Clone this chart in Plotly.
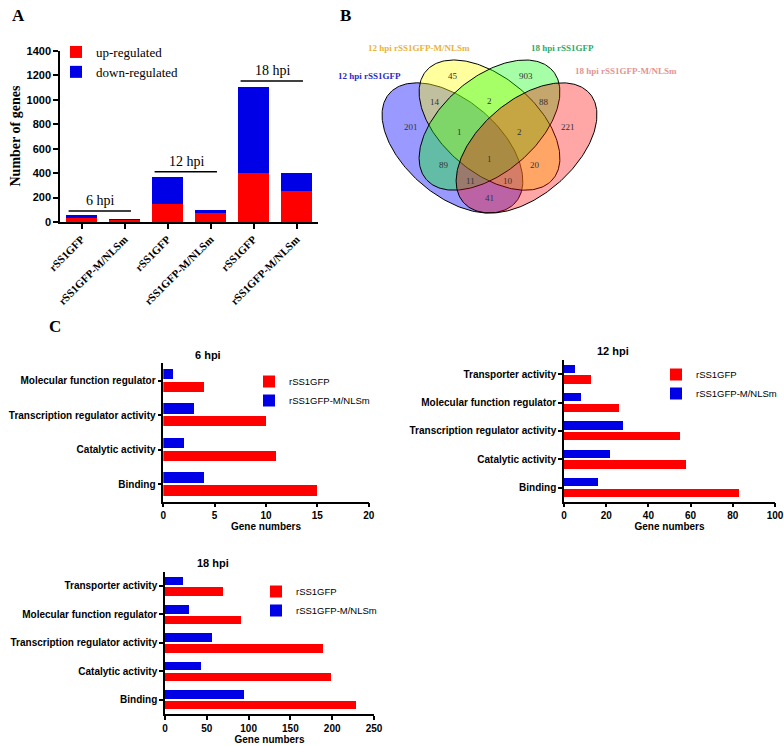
import numpy as np
import plotly.graph_objects as go

W, H = 784, 746
RED = "#FF0000"
BLUE = "#0000E6"
SANS = "Liberation Sans"
SERIF = "Liberation Serif"

# --- panel A: DEG counts
samples = ["rSS1GFP", "rSS1GFP-M/NLSm", "rSS1GFP", "rSS1GFP-M/NLSm", "rSS1GFP", "rSS1GFP-M/NLSm"]
up_regulated = [35, 20, 147, 70, 401, 257]
down_regulated = [25, 3, 224, 31, 704, 144]
time_points = ["6 hpi", "12 hpi", "18 hpi"]
bracket_y = [90, 412, 1154]

# --- panel B: venn
venn_sets = ["12 hpi rSS1GFP", "12 hpi rSS1GFP-M/NLSm", "18 hpi rSS1GFP", "18 hpi rSS1GFP-M/NLSm"]
venn_colors = ["rgba(0,0,255,0.40)", "rgba(255,255,0,0.38)", "rgba(0,255,0,0.35)", "rgba(255,0,0,0.35)"]
venn_text_colors = ["#2A2AC8", "#E8B43A", "#2EAA6A", "#E39494"]
venn_counts = [201, 45, 903, 221, 14, 2, 88, 1, 2, 1, 89, 20, 11, 10, 41]

# --- panel C: GO molecular function
go_terms = ["Binding", "Catalytic activity", "Transcription regulator activity",
            "Molecular function regulator", "Transporter activity"]
c6_wt = [15, 11, 10, 4]
c6_mut = [4, 2, 3, 1]
c12_wt = [83, 58, 55, 26, 13]
c12_mut = [16, 22, 28, 8, 5]
c18_wt = [229, 198, 189, 91, 69]
c18_mut = [95, 43, 56, 29, 22]


def px(x):
    return x / W


def py(y):
    return 1 - y / H


fig = go.Figure()

# ---------------- panel A
xpos = list(range(len(samples)))
fig.add_bar(x=xpos, y=up_regulated, name="up-regulated", marker=dict(color=RED, line_width=0),
            width=0.7, offset=-0.35, xaxis="x", yaxis="y", legend="legend")
fig.add_bar(x=xpos, y=down_regulated, base=up_regulated, name="down-regulated",
            marker=dict(color=BLUE, line_width=0),
            width=0.7, offset=-0.35, xaxis="x", yaxis="y", legend="legend")

shapes = []
annotations = []
for i, (tp, by) in enumerate(zip(time_points, bracket_y)):
    shapes.append(dict(type="line", xref="x", yref="y", x0=2 * i - 0.3, x1=2 * i + 1.15,
                       y0=by, y1=by, line=dict(color="black", width=1.5)))
    annotations.append(dict(xref="x", yref="y", x=2 * i + 0.45, y=by, text=tp, showarrow=False,
                            yanchor="bottom", yshift=1, font=dict(family=SERIF, size=14, color="black")))

annotations.append(dict(xref="paper", yref="paper", x=px(15), y=py(136.5), text="<b>Number of genes</b>",
                        xanchor="center", yanchor="middle",
                        textangle=-90, showarrow=False, font=dict(family=SERIF, size=14, color="black")))

# ---------------- panel B
t = np.linspace(0, 2 * np.pi, 240)
ell = [(0.35, 0.47, -45), (0.50, 0.57, -45), (0.50, 0.57, 45), (0.65, 0.47, 45)]
for (cx, cy, rot), col in zip(ell, venn_colors):
    r = np.deg2rad(rot)
    ux = cx + 0.35 * np.cos(t) * np.cos(r) - 0.20 * np.sin(t) * np.sin(r)
    uy = cy + 0.35 * np.cos(t) * np.sin(r) + 0.20 * np.sin(t) * np.cos(r)
    fig.add_scatter(x=489.5 + (ux - 0.5) * 247, y=60 + (0.855 - uy) * 228.4, mode="lines",
                    fill="toself", fillcolor=col, line=dict(color="black", width=1),
                    xaxis="x2", yaxis="y2", showlegend=False, hoverinfo="skip")

venn_pos = [(410.7, 126.7), (453.3, 76), (525.7, 76), (568.3, 126.7), (435, 102.3), (489.5, 100.7),
            (544, 102.3), (459.3, 132.3), (519.7, 132.3), (489.5, 159.3), (444, 165), (535, 165),
            (470.7, 180.7), (508.3, 180.7), (489.5, 197.7)]
for (vx, vy), n in zip(venn_pos, venn_counts):
    annotations.append(dict(xref="x2", yref="y2", x=vx, y=vy, text=str(n), showarrow=False,
                            font=dict(family=SERIF, size=9, color="#333333")))

set_pos = [(403, 76, "right"), (418.5, 47.7, "center"), (562.5, 47.7, "center"), (625.5, 71, "center")]
for (sx, sy, anc), name, col in zip(set_pos, venn_sets, venn_text_colors):
    annotations.append(dict(xref="x2", yref="y2", x=sx, y=sy, xanchor=anc, text="<b>" + name + "</b>",
                            showarrow=False, font=dict(family=SERIF, size=9, color=col)))


# ---------------- panel C
def add_go_panel(n, wt, mut, legend_name):
    cats = go_terms[:len(wt)]
    fig.add_bar(y=cats, x=wt, orientation="h", name="rSS1GFP", marker=dict(color=RED, line_width=0),
                width=0.29, offset=-0.33, xaxis=f"x{n}", yaxis=f"y{n}", legend=legend_name)
    fig.add_bar(y=cats, x=mut, orientation="h", name="rSS1GFP-M/NLSm", marker=dict(color=BLUE, line_width=0),
                width=0.30, offset=0.04, xaxis=f"x{n}", yaxis=f"y{n}", legend=legend_name)


add_go_panel(3, c6_wt, c6_mut, "legend2")
add_go_panel(4, c12_wt, c12_mut, "legend3")
add_go_panel(5, c18_wt, c18_mut, "legend4")

for txt, tx, ty in [("6 hpi", 208, 355), ("12 hpi", 613, 351), ("18 hpi", 213, 563)]:
    annotations.append(dict(xref="paper", yref="paper", x=px(tx), y=py(ty), text="<b>" + txt + "</b>",
                            xanchor="center", yanchor="middle",
                            showarrow=False, font=dict(family=SANS, size=11, color="black")))

for lbl, lx, ly in [("A", 18, 15), ("B", 345, 15), ("C", 55, 327)]:
    annotations.append(dict(xref="paper", yref="paper", x=px(lx), y=py(ly), text="<b>" + lbl + "</b>",
                            xanchor="center", yanchor="middle",
                            showarrow=False, font=dict(family=SERIF, size=17, color="black")))

axis_common = dict(showline=True, linecolor="black", linewidth=1.5, ticks="outside", ticklen=4,
                   tickwidth=1.5, tickcolor="black", showgrid=False, zeroline=False, fixedrange=True,
                   automargin=False)
bold_sans = dict(family=SANS, size=10, color="black", weight="bold")
title_font = dict(family=SANS, size=10, color="black", weight="bold")

leg_common = dict(bgcolor="rgba(0,0,0,0)", xanchor="left", yanchor="top", tracegroupgap=0)

fig.update_layout(
    width=W, height=H, margin=dict(l=0, r=0, t=0, b=0, pad=0, autoexpand=False),
    paper_bgcolor="white", plot_bgcolor="white",
    barmode="overlay", bargap=0,
    showlegend=True,
    xaxis=dict(axis_common, domain=[px(60), px(318)], range=[-0.5, 5.5], tickvals=xpos, ticktext=samples,
               tickangle=-45, ticklen=5, tickfont=dict(family=SERIF, size=11, color="black", weight="bold"),
               anchor="y"),
    yaxis=dict(axis_common, domain=[py(222), py(51)], range=[0, 1400], dtick=200, ticklen=5,
               tickfont=dict(family=SANS, size=11, color="black", weight="bold"), anchor="x"),
    xaxis2=dict(domain=[px(340), 1], range=[340, 784], visible=False, anchor="y2", fixedrange=True),
    yaxis2=dict(domain=[py(300), 1], range=[300, 0], visible=False, anchor="x2", fixedrange=True),
    xaxis3=dict(axis_common, domain=[px(163.3), px(368.7)], range=[0, 20], dtick=5, tickfont=bold_sans,
                title=dict(text="Gene numbers", font=title_font, standoff=3), anchor="y3"),
    yaxis3=dict(axis_common, domain=[py(501.7), py(363.3)], range=[-0.5, 3.5], tickfont=bold_sans, anchor="x3"),
    xaxis4=dict(axis_common, domain=[px(564), px(775)], range=[0, 100], dtick=20, tickfont=bold_sans,
                title=dict(text="Gene numbers", font=title_font, standoff=3), anchor="y4"),
    yaxis4=dict(axis_common, domain=[py(501.7), py(360)], range=[-0.5, 4.5], tickfont=bold_sans, anchor="x4"),
    xaxis5=dict(axis_common, domain=[px(165), px(374)], range=[0, 250], dtick=50, tickfont=bold_sans,
                title=dict(text="Gene numbers", font=title_font, standoff=3), anchor="y5"),
    yaxis5=dict(axis_common, domain=[py(714), py(571.7)], range=[-0.5, 4.5], tickfont=bold_sans, anchor="x5"),
    legend=dict(leg_common, x=px(56), y=py(37), font=dict(family=SERIF, size=13, color="black")),
    legend2=dict(leg_common, x=px(249), y=py(367), font=dict(family=SANS, size=9.5, color="black")),
    legend3=dict(leg_common, x=px(656), y=py(360), font=dict(family=SANS, size=9.5, color="black")),
    legend4=dict(leg_common, x=px(256), y=py(577), font=dict(family=SANS, size=9.5, color="black")),
    shapes=shapes,
    annotations=annotations,
)

fig.write_html("out.html", config={"displayModeBar": False},
               post_script="document.body.style.margin='0';")
